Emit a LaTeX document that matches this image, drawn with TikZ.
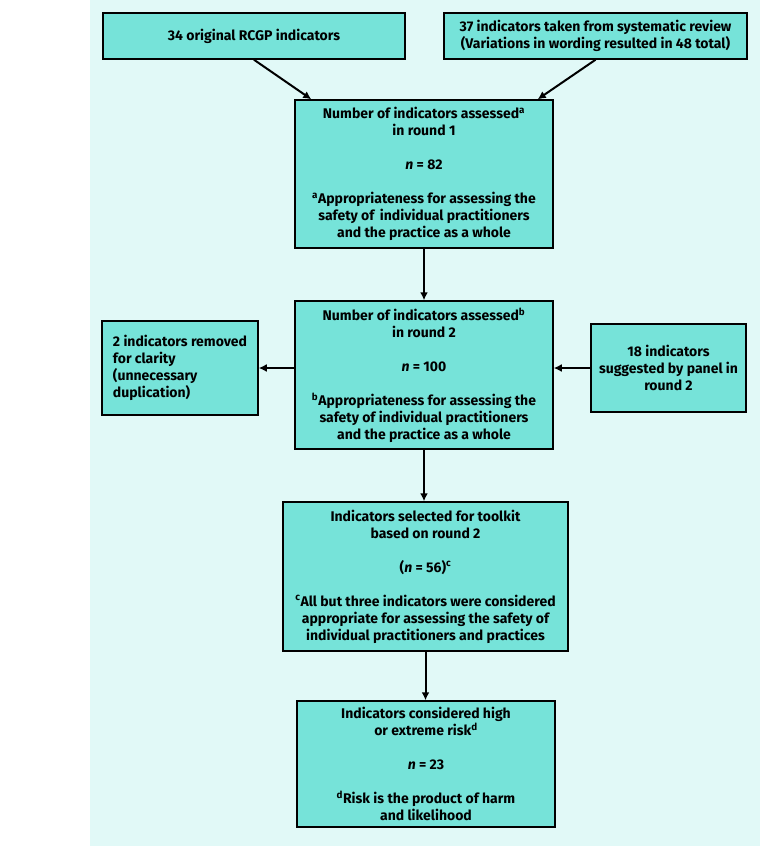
\documentclass[tikz,border=0pt]{standalone}
\usepackage{fontspec}
\setmainfont{Fira Sans}
\usepackage{tikz}
\usetikzlibrary{arrows.meta}
\definecolor{pagecyan}{HTML}{E1F9F7}
\definecolor{boxcyan}{HTML}{76E3D9}
\tikzstyle{box}=[draw, line width=1.5pt, fill=boxcyan, inner sep=0pt, align=center, font=\bfseries\fontsize{14}{17}\selectfont]
\tikzstyle{lbox}=[box, align=left]
\tikzstyle{arr}=[-{Latex[length=8pt, width=8pt]}, line width=2pt]

\begin{document}
\begin{tikzpicture}[x=1pt, y=-1pt]
        \useasboundingbox (0,0) rectangle (760,846);
        \fill[pagecyan] (90,0) rectangle (760,846);
        \node[box, minimum width=302pt, minimum height=46pt] (orig) at (254,36) {34 original RCGP indicators};
        \node[box, minimum width=303pt, minimum height=46pt] (sysrev) at (595.5,36) {37 indicators taken from systematic review\\(Variations in wording resulted in 48 total)};
        \node[box, minimum width=258pt, minimum height=148pt] (round1) at (424,174) {Number of indicators assessed\textsuperscript{a}\\in round 1\\[17pt]\textit{n} = 82\\[17pt]\textsuperscript{a}Appropriateness for assessing the\\safety of\, individual practitioners\\and the practice as a whole};
        \node[box, minimum width=258pt, minimum height=148pt] (round2) at (424,375) {Number of indicators assessed\textsuperscript{b}\\in round 2\\[17pt]\textit{n} = 100\\[17pt]\textsuperscript{b}Appropriateness for assessing the\\safety of individual practitioners\\and the practice as a whole};
        \node[lbox, minimum width=156pt, minimum height=94pt] (removed) at (180,368) {2 indicators removed\\for clarity\\(unnecessary\\duplication)};
        \node[box, minimum width=155pt, minimum height=88pt] (panel) at (668.5,368) {18 indicators\\suggested by panel in\\round 2};
        \node[box, minimum width=285pt, minimum height=149pt] (toolkit) at (425.5,576.5) {Indicators selected for toolkit\\based on round 2\\[17pt](\textit{n} = 56)\textsuperscript{c}\\[17pt]\textsuperscript{c}All but three indicators were considered\\appropriate for assessing the safety of\\individual practitioners and practices};
        \node[box, minimum width=258pt, minimum height=126pt] (risk) at (426,764) {Indicators considered high\\or extreme risk\textsuperscript{d}\\[17pt]\textit{n} = 23\\[17pt]\textsuperscript{d}Risk is the product of harm\\and likelihood};
        \draw[arr] (orig.south) -- ([xshift=17pt]round1.north west);
        \draw[arr] (sysrev.south) -- ([xshift=-16pt]round1.north east);
        \draw[arr] (round1) -- (round2);
        \draw[arr] (round2.west |- removed.east) -- (removed.east);
        \draw[arr] (panel.west) -- (round2.east |- panel.west);
        \draw[arr] (round2.south) -- (round2.south |- toolkit.north);
        \draw[arr] (toolkit.south) -- (toolkit.south |- risk.north);
    \end{tikzpicture}
\end{document}
